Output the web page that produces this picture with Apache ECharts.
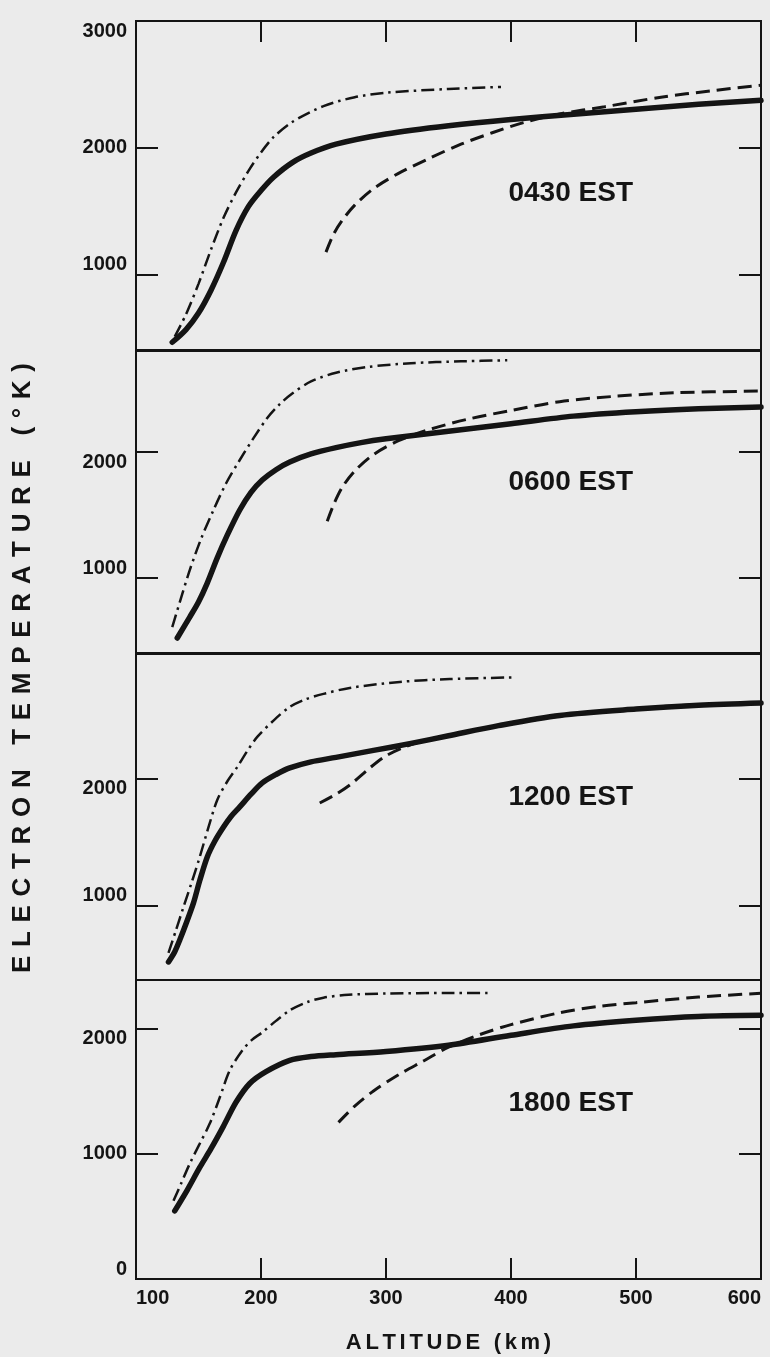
<!DOCTYPE html>
<html>
<head>
<meta charset="utf-8">
<script src="https://cdn.jsdelivr.net/npm/echarts@6/dist/echarts.min.js"></script>
<style>
html,body{margin:0;padding:0;background:#ebebeb;}
#c{width:770px;height:1357px;}
</style>
</head>
<body>
<div id="c"></div>
<script>
// ---- data (altitude km, electron temperature K) ----
const panelLabels = ['0430 EST', '0600 EST', '1200 EST', '1800 EST'];
const xTicks = [100, 200, 300, 400, 500, 600];
const xInnerTicks = [200, 300, 400, 500];
const yRanges = [[409, 3000], [405, 2802], [417, 2984], [0, 2386]];
const yLabelValues = [[1000, 2000, 3000], [1000, 2000], [1000, 2000], [0, 1000, 2000]];
const yTickValues = [[1000, 2000], [1000, 2000], [1000, 2000], [1000, 2000]];
const xTitle = 'ALTITUDE (km)';
const yTitle = 'ELECTRON TEMPERATURE (\u00B0K)';

// 0430 EST
const p1Solid = [[129,470],[140,570],[150,700],[160,880],[170,1100],[180,1350],[190,1540],[200,1665],[210,1770],[225,1885],[240,1960],[260,2030],[300,2110],[350,2175],[400,2225],[450,2265],[500,2305],[550,2345],[600,2375]];
const p1DashDot = [[131,514],[140,690],[150,930],[160,1200],[170,1450],[180,1650],[190,1820],[200,1965],[210,2085],[225,2205],[250,2330],[275,2400],[300,2435],[350,2465],[392,2480]];
const p1Dashed = [[252,1180],[258,1320],[265,1430],[275,1550],[290,1680],[310,1800],[335,1920],[360,2030],[385,2120],[410,2200],[440,2270],[475,2325],[520,2400],[560,2450],[600,2495]];
// 0600 EST
const p2Solid = [[133,524],[143,690],[150,810],[157,960],[165,1160],[173,1340],[183,1540],[192,1680],[201,1778],[212,1860],[223,1921],[240,1985],[260,2035],[280,2075],[300,2105],[350,2165],[400,2225],[450,2285],[500,2320],[550,2343],[600,2357]];
const p2DashDot = [[129,611],[136,840],[143,1063],[152,1310],[162,1540],[172,1750],[183,1937],[194,2110],[205,2270],[215,2380],[225,2465],[240,2560],[260,2630],[285,2675],[320,2705],[360,2720],[397,2728]];
const p2Dashed = [[253,1450],[258,1580],[265,1720],[275,1850],[290,1980],[310,2090],[335,2180],[365,2260],[400,2330],[439,2400],[480,2440],[530,2470],[600,2484]];
// 1200 EST
const p3Solid = [[126,559],[131,640],[135,732],[140,860],[146,1024],[151,1200],[157,1386],[163,1510],[170,1622],[176,1705],[183,1780],[192,1880],[201,1969],[212,2035],[223,2087],[240,2135],[260,2170],[290,2225],[320,2280],[350,2340],[390,2420],[439,2500],[500,2550],[550,2580],[600,2598]];
const p3DashDot = [[126,630],[132,810],[138,992],[145,1200],[151,1386],[158,1620],[165,1835],[173,1980],[181,2094],[189,2220],[197,2331],[210,2460],[223,2567],[235,2625],[250,2670],[271,2717],[311,2764],[351,2787],[404,2800]];
const p3Dashed = [[247,1811],[260,1880],[272,1960],[285,2070],[298,2170],[312,2240],[330,2300],[360,2360],[400,2435],[450,2510],[500,2555],[550,2585],[600,2600]];
// 1800 EST
const p4Solid = [[131,544],[141,710],[151,890],[160,1040],[170,1220],[180,1410],[191,1560],[204,1655],[223,1745],[240,1775],[260,1790],[300,1815],[350,1865],[400,1945],[450,2020],[500,2065],[550,2095],[600,2104]];
const p4DashDot = [[130,624],[136,760],[143,920],[151,1080],[159,1240],[167,1448],[175,1664],[185,1824],[193,1910],[201,1968],[212,2060],[223,2144],[237,2210],[250,2245],[270,2268],[300,2278],[350,2282],[385,2282]];
const p4Dashed = [[262,1250],[275,1380],[290,1500],[310,1630],[330,1740],[350,1850],[375,1950],[400,2030],[439,2125],[470,2175],[500,2205],[550,2250],[600,2280]];

const solids = [p1Solid, p2Solid, p3Solid, p4Solid];
const dashDots = [p1DashDot, p2DashDot, p3DashDot, p4DashDot];
const dasheds = [p1Dashed, p2Dashed, p3Dashed, p4Dashed];

// ---- layout ----
const INK = '#141414';
const FONT = '"Liberation Sans", Arial, sans-serif';
const gridBoxes = [[21, 329], [351, 302], [654, 326], [980, 299]];
const labelY = [193, 482, 797, 1103];
const spaced = (s, sep) => s.split('').join(sep);
const plain = v => String(v);

const chart = echarts.init(document.getElementById('c'), null, {renderer: 'canvas'});

const grids = [], xAxes = [], yAxes = [], series = [];
gridBoxes.forEach((g, i) => {
  grids.push({left: 136, width: 625, top: g[0], height: g[1], show: true, containLabel: false,
    outerBoundsMode: 'none', borderColor: INK, borderWidth: 2, backgroundColor: 'transparent'});
  const last = i === 3;
  xAxes.push({type: 'value', gridIndex: i, min: 100, max: 600, position: 'bottom',
    axisLine: {show: false}, splitLine: {show: false},
    axisTick: {show: last, inside: true, length: 21, lineStyle: {color: INK, width: 2}, customValues: xInnerTicks},
    axisLabel: {show: last, customValues: xTicks, formatter: plain, color: INK, fontFamily: FONT,
      fontWeight: 'bold', fontSize: 20, margin: 9, alignMinLabel: 'left', alignMaxLabel: 'right'},
    name: last ? spaced(xTitle, '\u2006') : '', nameLocation: 'middle', nameGap: 53,
    nameTextStyle: {color: INK, fontFamily: FONT, fontWeight: 'bold', fontSize: 22}
  });
  yAxes.push({type: 'value', gridIndex: i, min: yRanges[i][0], max: yRanges[i][1], position: 'left',
    axisLine: {show: false}, splitLine: {show: false},
    axisTick: {show: true, inside: true, length: 22, lineStyle: {color: INK, width: 2}, customValues: yTickValues[i]},
    axisLabel: {customValues: yLabelValues[i], formatter: plain, color: INK, fontFamily: FONT,
      fontWeight: 'bold', fontSize: 20, margin: 9, verticalAlignMaxLabel: 'top', verticalAlignMinLabel: 'bottom'}
  });
  yAxes.push({type: 'value', gridIndex: i, min: yRanges[i][0], max: yRanges[i][1], position: 'right',
    axisLine: {show: false}, splitLine: {show: false},
    axisTick: {show: true, inside: true, length: 22, lineStyle: {color: INK, width: 2}, customValues: yTickValues[i]},
    axisLabel: {show: false}
  });
  const common = {type: 'line', xAxisIndex: i, yAxisIndex: 2 * i, showSymbol: false, smooth: 0.3,
    silent: true, z: 3};
  series.push(Object.assign({}, common, {name: 'solid' + i, data: solids[i],
    lineStyle: {color: INK, width: 5.5, cap: 'round', join: 'round'}}));
  series.push(Object.assign({}, common, {name: 'dashdot' + i, data: dashDots[i],
    lineStyle: {color: INK, width: 2.5, type: [13, 5, 2.5, 5]}}));
  series.push(Object.assign({}, common, {name: 'dashed' + i, data: dasheds[i],
    lineStyle: {color: INK, width: 3, type: [14, 7]}}));
});
// top ticks on upper panel
xAxes.push({type: 'value', gridIndex: 0, min: 100, max: 600, position: 'top',
  axisLine: {show: false}, splitLine: {show: false},
  axisTick: {show: true, inside: true, length: 21, lineStyle: {color: INK, width: 2}, customValues: xInnerTicks},
  axisLabel: {show: false}});

const graphics = panelLabels.map((t, i) => ({
  type: 'text', x: 633, y: labelY[i], silent: true,
  style: {text: t, fill: INK, font: 'bold 28px ' + FONT, textAlign: 'right', textVerticalAlign: 'middle'}
}));
graphics.push({type: 'text', x: 23, y: 668, rotation: Math.PI / 2, silent: true,
  style: {text: spaced(yTitle, '\u2004'), fill: INK, font: 'bold 26px ' + FONT,
    textAlign: 'center', textVerticalAlign: 'middle'}});

chart.setOption({
  backgroundColor: '#ebebeb',
  animation: false,
  grid: grids, xAxis: xAxes, yAxis: yAxes, series: series, graphic: graphics
});
</script>
</body>
</html>
